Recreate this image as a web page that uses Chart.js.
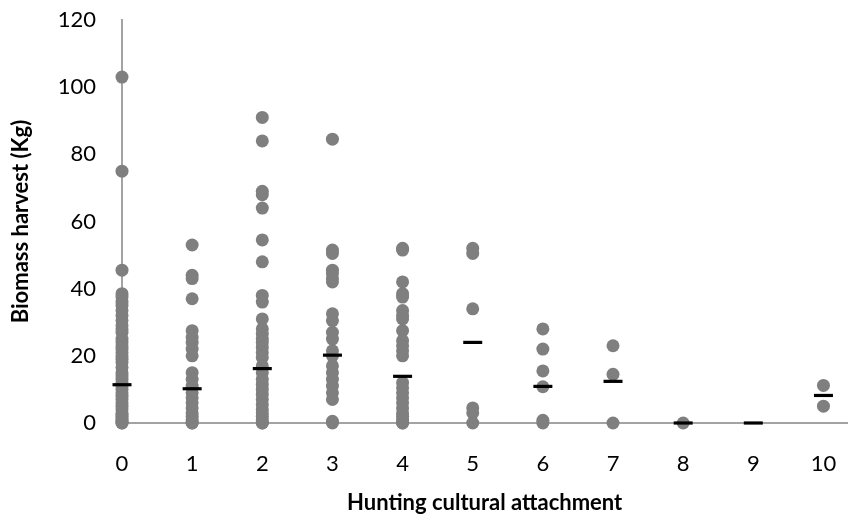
<!DOCTYPE html>
<html>
<head>
<meta charset="utf-8">
<script src="https://cdn.jsdelivr.net/npm/chart.js@4/dist/chart.umd.min.js"></script>
<style>
  html, body { margin: 0; padding: 0; background: #ffffff; }
  #chart { display: block; }
</style>
</head>
<body>
<canvas id="chart" width="860" height="531"></canvas>
<script>
// Hunting cultural attachment score (x) and biomass harvested per respondent (kg)
const attachmentLevels = [0, 1, 2, 3, 4, 5, 6, 7, 8, 9, 10];

const harvestByLevel = [
  // 0
  [103, 75, 45.5, 38.5, 37.5, 36, 35, 33.5, 32, 30.5, 29, 28, 27, 25, 24, 23, 22, 21, 20, 19, 18,
   16.5, 15, 14, 13, 12, 11, 10, 9, 8, 7, 6, 5, 4, 3, 2.5, 2, 1.5, 1, 0.5, 0, 0],
  // 1
  [53, 44, 43, 37, 27.5, 25.5, 24, 22, 20, 15, 13, 11, 9, 7.5, 6, 4.5, 3, 2, 1, 0, 0],
  // 2
  [91, 84, 69, 68, 64, 54.5, 48, 38, 36, 31, 28, 26.5, 25, 24, 22.5, 21, 19.5, 17, 15, 13, 11.5,
   10, 8.5, 7, 5.5, 4, 3, 2, 1, 0, 0],
  // 3
  [84.5, 51.5, 50.5, 45.5, 44.5, 43, 42, 32.5, 30.5, 27, 25, 21.5, 20, 17, 15, 13, 11, 9, 7, 0.5, 0],
  // 4
  [52, 51.5, 42, 38.5, 37.5, 33.5, 32, 31, 27.5, 24.5, 23, 21.5, 20, 12, 10.5, 9, 7.5, 6, 4.5, 3,
   2, 1, 0, 0],
  // 5
  [52, 50.5, 34, 4.5, 3, 0],
  // 6
  [28, 22, 15.5, 10.8, 0.8, 0],
  // 7
  [23, 14.5, 0],
  // 8
  [0],
  // 9
  [],
  // 10
  [11.2, 5]
];

// Mean harvest for each attachment level
const meanHarvest = [11.4, 10.2, 16.2, 20.2, 13.9, 24.0, 10.9, 12.4, 0, 0, 8.2];

const yTicks = [0, 20, 40, 60, 80, 100, 120];

const pointData = [];
attachmentLevels.forEach((lvl, i) => {
  harvestByLevel[i].forEach(v => pointData.push({ x: lvl, y: v }));
});
const meanData = attachmentLevels.map((lvl, i) => ({ x: lvl, y: meanHarvest[i] }));

const FONT = 'Lato, "Open Sans", "DejaVu Sans", sans-serif';
const AXIS_GREY = '#a3a3a3';

new Chart(document.getElementById('chart'), {
  type: 'scatter',
  data: {
    datasets: [
      {
        label: 'Mean',
        data: meanData,
        pointStyle: 'line',
        pointRadius: 9.5,
        pointHoverRadius: 9.5,
        borderColor: '#000000',
        backgroundColor: '#000000',
        pointBorderWidth: 3.2,
        clip: false,
        order: 0
      },
      {
        label: 'Biomass harvest',
        data: pointData,
        pointRadius: 6.5,
        pointHoverRadius: 6.5,
        pointBorderWidth: 0,
        backgroundColor: '#7f7f7f',
        borderColor: '#7f7f7f',
        clip: false,
        order: 1
      }
    ]
  },
  options: {
    responsive: false,
    animation: false,
    devicePixelRatio: 1,
    layout: { padding: { top: 20, right: 2, bottom: 0, left: 0 } },
    plugins: {
      legend: { display: false },
      tooltip: { enabled: false }
    },
    scales: {
      x: {
        type: 'linear',
        min: 0,
        max: 10.34,
        afterBuildTicks: (scale) => {
          scale.ticks = attachmentLevels.map(v => ({ value: v }));
        },
        afterFit: (scale) => {
          // fixed axis band; tick padding should not eat into the plot width
          scale.height = 108;
          scale.paddingLeft = 0;
          scale.paddingRight = 0;
        },
        grid: { display: false, drawTicks: false },
        border: { display: true, color: AXIS_GREY, width: 2 },
        ticks: {
          padding: 28,
          color: '#000000',
          font: { family: FONT, size: 22 },
          maxRotation: 0,
          autoSkip: false
        },
        title: {
          display: true,
          text: 'Hunting cultural attachment',
          color: '#000000',
          font: { family: FONT, size: 22, weight: 'bold' },
          padding: { top: 0, bottom: 15 }
        }
      },
      y: {
        min: 0,
        max: 120,
        afterBuildTicks: (scale) => {
          scale.ticks = yTicks.map(v => ({ value: v }));
        },
        afterFit: (scale) => {
          scale.width = 122;
          scale.paddingTop = 0;
          scale.paddingBottom = 0;
        },
        grid: { display: false, drawTicks: false },
        border: { display: true, color: AXIS_GREY, width: 2 },
        ticks: {
          padding: 26,
          color: '#000000',
          font: { family: FONT, size: 22 }
        },
        title: {
          display: true,
          text: 'Biomass harvest (Kg)',
          color: '#000000',
          font: { family: FONT, size: 22, weight: 'bold' },
          padding: { top: 8, bottom: 0 }
        }
      }
    }
  }
});
</script>
</body>
</html>
